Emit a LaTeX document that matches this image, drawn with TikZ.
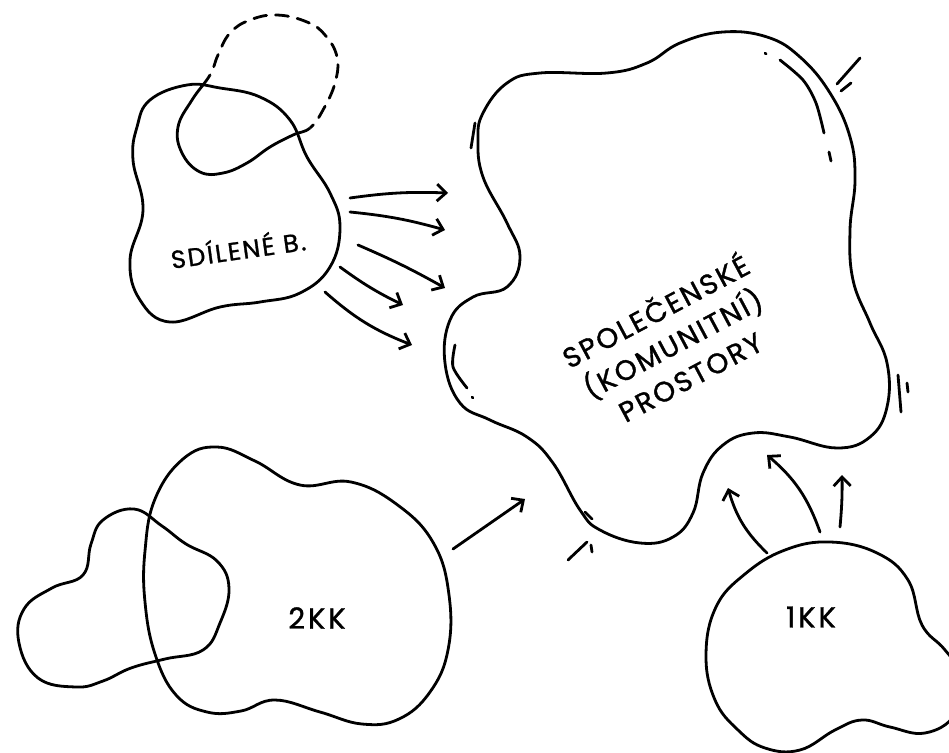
\documentclass[tikz,border=0pt]{standalone}
\usepackage{fontspec}
\setmainfont{Poppins}[FakeBold=1.2]
\usetikzlibrary{arrows.meta}

\begin{document}
\begin{tikzpicture}[x=1pt,y=-1pt,line width=2.8pt,line cap=round,line join=round,
  >={Straight Barb[length=9pt,width=17pt]},
  blob/.style={smooth cycle,tension=0.7},
  lbl/.style={inner sep=0pt,font=\fontsize{25}{34}\selectfont\addfontfeature{LetterSpace=8}}]
\useasboundingbox (0,0) rectangle (949,752);
\clip (0,0) rectangle (949,752);

% shapes
\draw plot[blob] coordinates {(150,100) (187,85) (220,88) (260,97) (290,120) (307,157) (330,193) (340,227) (330,267) (300,293) (260,302) (220,307) (170,322) (140,300) (130,260) (143,210) (133,160) (137,127)};
\begin{scope}
\clip (110,22) -- (410,181) -- (410,320) -- (110,320) -- cycle;
\draw plot[blob] coordinates {(210,75) (192,100) (178,127) (182,153) (200,172) (223,173) (247,163) (270,147) (293,135) (310,128) (323,110) (335,83) (337,57) (325,35) (307,22) (277,15) (250,20) (230,33) (218,55)};
\end{scope}
\begin{scope}
\clip (110,22) -- (410,181) -- (410,-10) -- (110,-10) -- cycle;
\draw[dash pattern=on 13pt off 9pt] plot[blob] coordinates {(210,75) (192,100) (178,127) (182,153) (200,172) (223,173) (247,163) (270,147) (293,135) (310,128) (323,110) (335,83) (337,57) (325,35) (307,22) (277,15) (250,20) (230,33) (218,55)};
\end{scope}

\draw plot[blob] coordinates {(483,113) (507,83) (540,73) (607,73) (647,63) (680,43) (723,32) (767,37) (800,57) (830,93) (850,137) (855,180) (850,230) (853,280) (870,323) (887,363) (887,407) (870,437) (837,448) (790,437) (753,433) (723,445) (703,473) (693,513) (673,537) (640,543) (600,530) (580,510) (553,463) (527,437) (490,420) (460,403) (445,363) (450,320) (473,297) (507,287) (520,257) (507,223) (483,177) (478,140)};
\draw plot[smooth] coordinates {(780,60) (803,80) (816,103) (824,133)};
\draw (765,53) -- (766,54);
\draw (829,152) -- (831,161);
\draw (860,58) -- (837,84);
\draw (851,83) -- (841,91);
\draw (475,123) -- (471,148);
\draw plot[smooth] coordinates {(455,345) (453,367) (467,388)};
\draw (472,397) -- (473,398);
\draw (898,375) -- (901,412);
\draw (907,383) -- (908,392);
\draw (585,512) -- (592,519);
\draw (568,560) -- (587,542);
\draw (591,545) -- (592,552);

\draw plot[blob] coordinates {(217,447) (255,461) (300,485) (351,482) (399,506) (434,544) (449,595) (448,650) (430,692) (399,719) (362,724) (320,712) (275,700) (241,711) (207,712) (176,695) (155,654) (145,602) (145,551) (155,499) (183,459)};
\draw plot[blob] coordinates {(134,509) (162,526) (186,544) (217,561) (229,588) (220,623) (203,650) (165,659) (131,668) (103,681) (76,687) (38,678) (19,643) (24,609) (52,588) (83,575) (91,544) (103,520)};

\draw plot[blob] coordinates {(830,542) (877,553) (908,580) (922,625) (945,650) (965,680) (955,715) (925,733) (890,727) (862,720) (835,730) (800,750) (765,748) (738,730) (715,700) (706,655) (716,607) (745,574) (785,550)};

% labels
\node[lbl, rotate=8] (b) at (238,248) {SDÍLENÉ B.};
\node[lbl, rotate=28, align=center, font=\fontsize{28}{37}\selectfont\addfontfeature{LetterSpace=8}] (p) at (672,342) {SPOLEČENSKÉ\\(KOMUNITNÍ)\\PROSTORY};
\node[lbl, font=\fontsize{29}{34}\selectfont\addfontfeature{LetterSpace=10}] (k2) at (317,618) {2KK};
\node[lbl, font=\fontsize{29}{34}\selectfont\addfontfeature{LetterSpace=10}] (k1) at (811,617) {1KK};

% arrow ends
\coordinate (b1) at (350,198); \coordinate (p1) at (448,193);
\coordinate (b2) at (350,212); \coordinate (p2) at (445,230);
\coordinate (b3) at (358,245); \coordinate (p3) at (445,288);
\coordinate (b4) at (340,267); \coordinate (p4) at (403,305);
\coordinate (b5) at (325,292); \coordinate (p5) at (412,345);
\coordinate (k2a) at (453,549); \coordinate (p6) at (525,499);
\coordinate (k1a) at (767,553); \coordinate (p7) at (728,488);
\coordinate (k1b) at (820,532); \coordinate (p8) at (767,455);
\coordinate (k1c) at (840,527); \coordinate (p9) at (842,475);

\draw[->] (b1) to[bend left=5] (p1);
\draw[->] (b2) to[bend left=5] (p2);
\draw[->] (b3) to[bend left=3] (p3);
\draw[->] (b4) to[bend right=5] (p4);
\draw[->] (b5) to[bend right=10] (p5);
\draw[->] (k2a) -- (p6);
\draw[->] (k1a) to[bend left=15] (p7);
\draw[->] (k1b) to[bend right=15] (p8);
\draw[->] (k1c) to[bend right=3] (p9);
\end{tikzpicture}
\end{document}
